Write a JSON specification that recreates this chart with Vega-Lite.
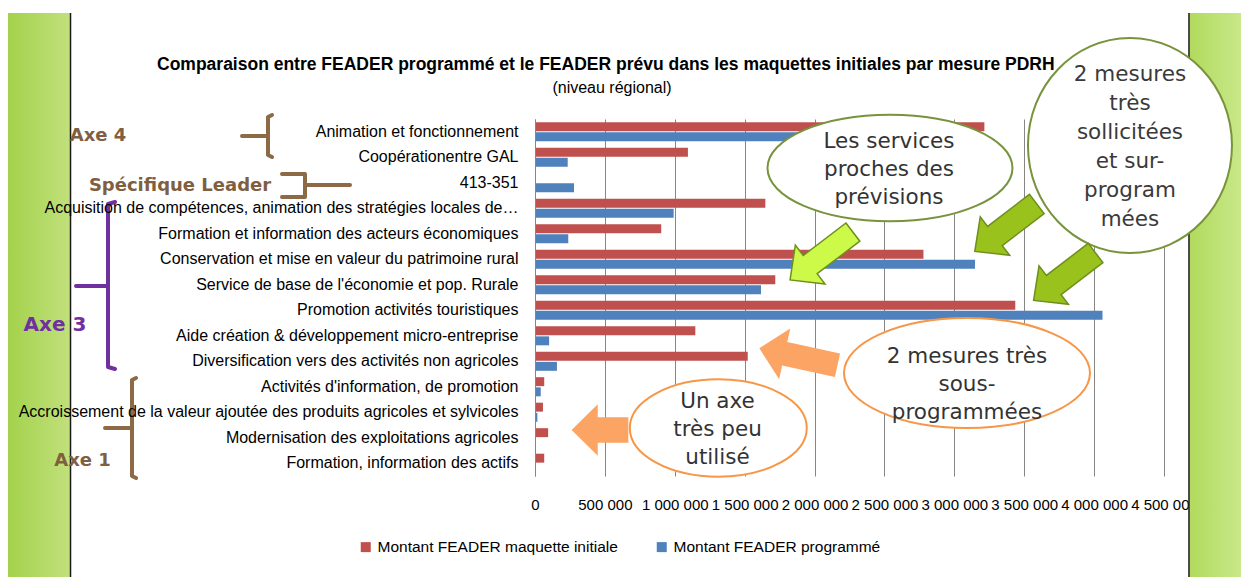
{
  "$schema": "https://vega.github.io/schema/vega-lite/v6.json",
  "width": 629,
  "height": 357,
  "autosize": {"type": "none"},
  "padding": {"left": 535, "top": 119, "right": 77, "bottom": 101},
  "background": "white",
  "config": {
    "view": {"stroke": null},
    "font": "Liberation Sans",
    "locale": {"number": {"decimal": ",", "thousands": " ", "grouping": [3], "currency": ["", " €"]}}
  },
  "resolve": {"scale": {"y": "independent"}},
  "layer": [
    {
      "data": {"values": [{"debut": -3770200, "fin": -3326600, "haut": -4.157, "bas": 17.96}]},
      "mark": {"type": "rect", "fill": {"gradient": "linear", "x1": 0, "x2": 1, "y1": 0, "y2": 0, "stops": [{"offset": 0, "color": "#a3d24b"}, {"offset": 1, "color": "#c1e07c"}]}},
      "encoding": {
        "x": {"field": "debut", "type": "quantitative", "scale": {"domain": [0, 4500000], "nice": false, "zero": false}},
        "x2": {"field": "fin"},
        "y": {"field": "haut", "type": "quantitative", "scale": {"domain": [0, 14], "nice": false, "zero": false, "reverse": true}, "axis": null},
        "y2": {"field": "bas"}
      }
    },
    {
      "data": {"values": [{"debut": 4678700, "fin": 5050700, "haut": -4.157, "bas": 17.96}]},
      "mark": {"type": "rect", "fill": {"gradient": "linear", "x1": 0, "x2": 1, "y1": 0, "y2": 0, "stops": [{"offset": 0, "color": "#b1da5d"}, {"offset": 1, "color": "#c8e889"}]}},
      "encoding": {
        "x": {"field": "debut", "type": "quantitative", "scale": {"domain": [0, 4500000], "nice": false, "zero": false}},
        "x2": {"field": "fin"},
        "y": {"field": "haut", "type": "quantitative", "scale": {"domain": [0, 14], "nice": false, "zero": false, "reverse": true}, "axis": null},
        "y2": {"field": "bas"}
      }
    },
    {
      "data": {"values": [{"valeur": -3323000, "haut": -4.157, "bas": 17.96}, {"valeur": 4678700, "haut": -4.157, "bas": 17.96}]},
      "mark": {"type": "rule", "color": "#1a1a1a", "strokeWidth": 1.5},
      "encoding": {
        "x": {"field": "valeur", "type": "quantitative", "scale": {"domain": [0, 4500000], "nice": false, "zero": false}},
        "y": {"field": "haut", "type": "quantitative", "scale": {"domain": [0, 14], "nice": false, "zero": false, "reverse": true}, "axis": null},
        "y2": {"field": "bas"}
      }
    },
    {
      "data": {"values": [
        {"mesure": "Animation et fonctionnement", "serie": "Montant FEADER maquette initiale", "montant": 3215000},
        {"mesure": "Animation et fonctionnement", "serie": "Montant FEADER programmé", "montant": 2700000},
        {"mesure": "Coopérationentre GAL", "serie": "Montant FEADER maquette initiale", "montant": 1094000},
        {"mesure": "Coopérationentre GAL", "serie": "Montant FEADER programmé", "montant": 234000},
        {"mesure": "413-351", "serie": "Montant FEADER maquette initiale", "montant": 0},
        {"mesure": "413-351", "serie": "Montant FEADER programmé", "montant": 279000},
        {"mesure": "Acquisition de compétences, animation des stratégies locales de…", "serie": "Montant FEADER maquette initiale", "montant": 1648000},
        {"mesure": "Acquisition de compétences, animation des stratégies locales de…", "serie": "Montant FEADER programmé", "montant": 992000},
        {"mesure": "Formation et information des acteurs économiques", "serie": "Montant FEADER maquette initiale", "montant": 903000},
        {"mesure": "Formation et information des acteurs économiques", "serie": "Montant FEADER programmé", "montant": 238000},
        {"mesure": "Conservation et mise en valeur du patrimoine rural", "serie": "Montant FEADER maquette initiale", "montant": 2779000},
        {"mesure": "Conservation et mise en valeur du patrimoine rural", "serie": "Montant FEADER programmé", "montant": 3148000},
        {"mesure": "Service de base de l'économie et pop. Rurale", "serie": "Montant FEADER maquette initiale", "montant": 1719000},
        {"mesure": "Service de base de l'économie et pop. Rurale", "serie": "Montant FEADER programmé", "montant": 1617000},
        {"mesure": "Promotion activités touristiques", "serie": "Montant FEADER maquette initiale", "montant": 3436000},
        {"mesure": "Promotion activités touristiques", "serie": "Montant FEADER programmé", "montant": 4060000},
        {"mesure": "Aide création & développement micro-entreprise", "serie": "Montant FEADER maquette initiale", "montant": 1147000},
        {"mesure": "Aide création & développement micro-entreprise", "serie": "Montant FEADER programmé", "montant": 101000},
        {"mesure": "Diversification vers des activités non agricoles", "serie": "Montant FEADER maquette initiale", "montant": 1522000},
        {"mesure": "Diversification vers des activités non agricoles", "serie": "Montant FEADER programmé", "montant": 157000},
        {"mesure": "Activités d'information, de promotion", "serie": "Montant FEADER maquette initiale", "montant": 66000},
        {"mesure": "Activités d'information, de promotion", "serie": "Montant FEADER programmé", "montant": 41000},
        {"mesure": "Accroissement de la valeur ajoutée des produits agricoles et sylvicoles", "serie": "Montant FEADER maquette initiale", "montant": 57000},
        {"mesure": "Accroissement de la valeur ajoutée des produits agricoles et sylvicoles", "serie": "Montant FEADER programmé", "montant": 17000},
        {"mesure": "Modernisation des exploitations agricoles", "serie": "Montant FEADER maquette initiale", "montant": 94000},
        {"mesure": "Modernisation des exploitations agricoles", "serie": "Montant FEADER programmé", "montant": 0},
        {"mesure": "Formation, information des actifs", "serie": "Montant FEADER maquette initiale", "montant": 66000},
        {"mesure": "Formation, information des actifs", "serie": "Montant FEADER programmé", "montant": 0}
      ]},
      "mark": {"type": "bar"},
      "encoding": {
        "y": {
          "field": "mesure", "type": "nominal", "sort": null,
          "scale": {"paddingInner": 0.25, "paddingOuter": 0.125},
          "axis": {"title": null, "zindex": 1, "domain": true, "domainColor": "#868686", "ticks": false, "labelFont": "Liberation Sans", "labelFontSize": 16, "labelColor": "#000000", "labelPadding": 17, "labelLimit": 1000}
        },
        "yOffset": {
          "field": "serie", "type": "nominal",
          "sort": ["Montant FEADER maquette initiale", "Montant FEADER programmé"],
          "scale": {"paddingInner": 0.12, "paddingOuter": 0}
        },
        "x": {
          "field": "montant", "type": "quantitative",
          "scale": {"domain": [0, 4500000], "nice": false, "zero": false},
          "axis": {"title": null, "values": [0, 500000, 1000000, 1500000, 2000000, 2500000, 3000000, 3500000, 4000000, 4500000], "format": ",d", "grid": true, "gridColor": "#868686", "gridWidth": 1, "domain": false, "ticks": false, "labelFont": "Liberation Sans", "labelFontSize": 15, "labelColor": "#000000", "labelPadding": 21, "labelOverlap": false, "labelFlush": false}
        },
        "color": {
          "field": "serie", "type": "nominal",
          "scale": {"domain": ["Montant FEADER maquette initiale", "Montant FEADER programmé"], "range": ["#C0504D", "#4F81BD"]},
          "legend": {"title": null, "orient": "none", "legendX": -177, "legendY": 420, "direction": "horizontal", "symbolType": "square", "symbolSize": 100, "symbolStrokeWidth": 0, "labelFont": "Liberation Sans", "labelFontSize": 15.5, "labelColor": "#000000", "labelLimit": 500, "columnPadding": 36, "labelOffset": 4}
        }
      }
    },
    {
      "data": {"values": [
        {"valeur": -2704200, "rang": -2.118, "texte": "Comparaison entre FEADER programmé et le FEADER prévu  dans les maquettes initiales par mesure PDRH"}
      ]},
      "mark": {"type": "text", "font": "Liberation Sans", "fontWeight": "bold", "fontSize": 17.5, "align": "left", "baseline": "middle", "color": "#000000"},
      "encoding": {
        "x": {"field": "valeur", "type": "quantitative", "scale": {"domain": [0, 4500000], "nice": false, "zero": false}},
        "y": {"field": "rang", "type": "quantitative", "scale": {"domain": [0, 14], "nice": false, "zero": false, "reverse": true}, "axis": null},
        "text": {"field": "texte"}
      }
    },
    {
      "data": {"values": [
        {"valeur": 550900, "rang": -1.216, "texte": "(niveau régional)"}
      ]},
      "mark": {"type": "text", "font": "Liberation Sans", "fontSize": 16, "align": "center", "baseline": "middle", "color": "#000000"},
      "encoding": {
        "x": {"field": "valeur", "type": "quantitative", "scale": {"domain": [0, 4500000], "nice": false, "zero": false}},
        "y": {"field": "rang", "type": "quantitative", "scale": {"domain": [0, 14], "nice": false, "zero": false, "reverse": true}, "axis": null},
        "text": {"field": "texte"}
      }
    },
    {
      "data": {"values": [
        {"trait": "a4", "ordre": 1, "valeur": -1881500, "rang": -0.157},
        {"trait": "a4", "ordre": 2, "valeur": -1910100, "rang": -0.078},
        {"trait": "a4", "ordre": 3, "valeur": -1910100, "rang": 1.412},
        {"trait": "a4", "ordre": 4, "valeur": -1881500, "rang": 1.49},
        {"trait": "a4t", "ordre": 1, "valeur": -2096100, "rang": 0.667},
        {"trait": "a4t", "ordre": 2, "valeur": -1910100, "rang": 0.667},
        {"trait": "sl", "ordre": 1, "valeur": -1810000, "rang": 2.157},
        {"trait": "sl", "ordre": 2, "valeur": -1645400, "rang": 2.157},
        {"trait": "sl", "ordre": 3, "valeur": -1645400, "rang": 3.059},
        {"trait": "sl", "ordre": 4, "valeur": -1810000, "rang": 3.059},
        {"trait": "slt", "ordre": 1, "valeur": -1645400, "rang": 2.588},
        {"trait": "slt", "ordre": 2, "valeur": -1323500, "rang": 2.588},
        {"trait": "a1", "ordre": 1, "valeur": -2854400, "rang": 10.157},
        {"trait": "a1", "ordre": 2, "valeur": -2883100, "rang": 10.235},
        {"trait": "a1", "ordre": 3, "valeur": -2883100, "rang": 14.0},
        {"trait": "a1", "ordre": 4, "valeur": -2854400, "rang": 14.078},
        {"trait": "a1t", "ordre": 1, "valeur": -3076200, "rang": 12.118},
        {"trait": "a1t", "ordre": 2, "valeur": -2883100, "rang": 12.118}
      ]},
      "mark": {"type": "line", "color": "#8B6A45", "strokeWidth": 4, "strokeCap": "round", "strokeJoin": "round"},
      "encoding": {
        "x": {"field": "valeur", "type": "quantitative", "scale": {"domain": [0, 4500000], "nice": false, "zero": false}},
        "y": {"field": "rang", "type": "quantitative", "scale": {"domain": [0, 14], "nice": false, "zero": false, "reverse": true}, "axis": null},
        "detail": {"field": "trait"},
        "order": {"field": "ordre"}
      }
    },
    {
      "data": {"values": [
        {"trait": "a3", "ordre": 1, "valeur": -3004700, "rang": 3.255},
        {"trait": "a3", "ordre": 2, "valeur": -3054800, "rang": 3.333},
        {"trait": "a3", "ordre": 3, "valeur": -3054800, "rang": 9.725},
        {"trait": "a3", "ordre": 4, "valeur": -3004700, "rang": 9.804},
        {"trait": "a3t", "ordre": 1, "valeur": -3283700, "rang": 6.549},
        {"trait": "a3t", "ordre": 2, "valeur": -3054800, "rang": 6.549}
      ]},
      "mark": {"type": "line", "color": "#7030A0", "strokeWidth": 4, "strokeCap": "round", "strokeJoin": "round"},
      "encoding": {
        "x": {"field": "valeur", "type": "quantitative", "scale": {"domain": [0, 4500000], "nice": false, "zero": false}},
        "y": {"field": "rang", "type": "quantitative", "scale": {"domain": [0, 14], "nice": false, "zero": false, "reverse": true}, "axis": null},
        "detail": {"field": "trait"},
        "order": {"field": "ordre"}
      }
    },
    {
      "data": {"values": [{"valeur": 4256600, "rang": 1.039}]},
      "mark": {"type": "point", "shape": "M-1,0C-1,-0.5821,-0.5523,-1.054,0,-1.054C0.5523,-1.054,1,-0.5821,1,0C1,0.5821,0.5523,1.054,0,1.054C-0.5523,1.054,-1,0.5821,-1,0Z", "size": 41616, "filled": true, "fill": "#ffffff", "stroke": "#77933C", "strokeWidth": 2, "opacity": 1},
      "encoding": {
        "x": {"field": "valeur", "type": "quantitative", "scale": {"domain": [0, 4500000], "nice": false, "zero": false}},
        "y": {"field": "rang", "type": "quantitative", "scale": {"domain": [0, 14], "nice": false, "zero": false, "reverse": true}, "axis": null}
      }
    },
    {
      "data": {"values": [{"valeur": 2539700, "rang": 1.922}]},
      "mark": {"type": "point", "shape": "M-1,0C-1,-0.2402,-0.5523,-0.435,0,-0.435C0.5523,-0.435,1,-0.2402,1,0C1,0.2402,0.5523,0.435,0,0.435C-0.5523,0.435,-1,0.2402,-1,0Z", "size": 60025, "filled": true, "fill": "#ffffff", "stroke": "#77933C", "strokeWidth": 2, "opacity": 1},
      "encoding": {
        "x": {"field": "valeur", "type": "quantitative", "scale": {"domain": [0, 4500000], "nice": false, "zero": false}},
        "y": {"field": "rang", "type": "quantitative", "scale": {"domain": [0, 14], "nice": false, "zero": false, "reverse": true}, "axis": null}
      }
    },
    {
      "data": {"values": [{"valeur": 3090500, "rang": 9.961}]},
      "mark": {"type": "point", "shape": "M-1,0C-1,-0.2469,-0.5523,-0.447,0,-0.447C0.5523,-0.447,1,-0.2469,1,0C1,0.2469,0.5523,0.447,0,0.447C-0.5523,0.447,-1,0.2469,-1,0Z", "size": 60516, "filled": true, "fill": "#ffffff", "stroke": "#F79646", "strokeWidth": 2, "opacity": 1},
      "encoding": {
        "x": {"field": "valeur", "type": "quantitative", "scale": {"domain": [0, 4500000], "nice": false, "zero": false}},
        "y": {"field": "rang", "type": "quantitative", "scale": {"domain": [0, 14], "nice": false, "zero": false, "reverse": true}, "axis": null}
      }
    },
    {
      "data": {"values": [{"valeur": 1311300, "rang": 12.118}]},
      "mark": {"type": "point", "shape": "M-1,0C-1,-0.3038,-0.5523,-0.55,0,-0.55C0.5523,-0.55,1,-0.3038,1,0C1,0.3038,0.5523,0.55,0,0.55C-0.5523,0.55,-1,0.3038,-1,0Z", "size": 31329, "filled": true, "fill": "#ffffff", "stroke": "#F79646", "strokeWidth": 2, "opacity": 1},
      "encoding": {
        "x": {"field": "valeur", "type": "quantitative", "scale": {"domain": [0, 4500000], "nice": false, "zero": false}},
        "y": {"field": "rang", "type": "quantitative", "scale": {"domain": [0, 14], "nice": false, "zero": false, "reverse": true}, "axis": null}
      }
    },
    {
      "data": {"values": [
        {"valeur": 2532600, "rang": 0.902, "texte": "Les services\nproches des\nprévisions"},
        {"valeur": 3090500, "rang": 9.333, "texte": "2 mesures très\nsous-\nprogrammées"},
        {"valeur": 1305600, "rang": 11.086, "texte": "Un axe\ntrès peu\nutilisé"}
      ]},
      "mark": {"type": "text", "font": "DejaVu Sans", "fontSize": 21.5, "lineBreak": "\n", "lineHeight": 28.2, "align": "center", "baseline": "middle", "color": "#333333"},
      "encoding": {
        "x": {"field": "valeur", "type": "quantitative", "scale": {"domain": [0, 4500000], "nice": false, "zero": false}},
        "y": {"field": "rang", "type": "quantitative", "scale": {"domain": [0, 14], "nice": false, "zero": false, "reverse": true}, "axis": null},
        "text": {"field": "texte"}
      }
    },
    {
      "data": {"values": [
        {"valeur": 4256600, "rang": -1.725, "texte": "2 mesures\ntrès\nsollicitées\net sur-\nprogram\nmées"}
      ]},
      "mark": {"type": "text", "font": "DejaVu Sans", "fontSize": 21.5, "lineBreak": "\n", "lineHeight": 29, "align": "center", "baseline": "middle", "color": "#3a3a3a"},
      "encoding": {
        "x": {"field": "valeur", "type": "quantitative", "scale": {"domain": [0, 4500000], "nice": false, "zero": false}},
        "y": {"field": "rang", "type": "quantitative", "scale": {"domain": [0, 14], "nice": false, "zero": false, "reverse": true}, "axis": null},
        "text": {"field": "texte"}
      }
    },
    {
      "data": {"values": [{"valeur": 2049600, "rang": 5.373}]},
      "mark": {"type": "point", "shape": "M-1,-0.29L0.36,-0.29L0.36,-0.62L1,0L0.36,0.62L0.36,0.29L-1,0.29Z", "size": 6241, "angle": 142.7, "filled": true, "fill": "#CDFA48", "stroke": "#6E8E1E", "strokeWidth": 1.5, "opacity": 1},
      "encoding": {
        "x": {"field": "valeur", "type": "quantitative", "scale": {"domain": [0, 4500000], "nice": false, "zero": false}},
        "y": {"field": "rang", "type": "quantitative", "scale": {"domain": [0, 14], "nice": false, "zero": false, "reverse": true}, "axis": null}
      }
    },
    {
      "data": {"values": [{"valeur": 3368100, "rang": 4.263}, {"valeur": 3788700, "rang": 6.184}]},
      "mark": {"type": "point", "shape": "M-1,-0.31L0.35,-0.31L0.35,-0.62L1,0L0.35,0.62L0.35,0.31L-1,0.31Z", "size": 6084, "angle": 142.6, "filled": true, "fill": "#99C21C", "stroke": "#6E8E1E", "strokeWidth": 1.5, "opacity": 1},
      "encoding": {
        "x": {"field": "valeur", "type": "quantitative", "scale": {"domain": [0, 4500000], "nice": false, "zero": false}},
        "y": {"field": "rang", "type": "quantitative", "scale": {"domain": [0, 14], "nice": false, "zero": false, "reverse": true}, "axis": null}
      }
    },
    {
      "data": {"values": [{"valeur": 1884400, "rang": 9.325}]},
      "mark": {"type": "point", "shape": "M-1,-0.3L0.35,-0.3L0.35,-0.65L1,0L0.35,0.65L0.35,0.3L-1,0.3Z", "size": 6400, "angle": 192.3, "filled": true, "fill": "#FCA463", "opacity": 1},
      "encoding": {
        "x": {"field": "valeur", "type": "quantitative", "scale": {"domain": [0, 4500000], "nice": false, "zero": false}},
        "y": {"field": "rang", "type": "quantitative", "scale": {"domain": [0, 14], "nice": false, "zero": false, "reverse": true}, "axis": null}
      }
    },
    {
      "data": {"values": [{"valeur": 465000, "rang": 12.196}]},
      "mark": {"type": "point", "shape": "M-1,-0.45L0.08,-0.45L0.08,-0.91L1,0L0.08,0.91L0.08,0.45L-1,0.45Z", "size": 3215, "angle": 180, "filled": true, "fill": "#FCA463", "opacity": 1},
      "encoding": {
        "x": {"field": "valeur", "type": "quantitative", "scale": {"domain": [0, 4500000], "nice": false, "zero": false}},
        "y": {"field": "rang", "type": "quantitative", "scale": {"domain": [0, 14], "nice": false, "zero": false, "reverse": true}, "axis": null}
      }
    },
    {
      "data": {"values": [
        {"valeur": -3126300, "rang": 0.667, "texte": "Axe 4"},
        {"valeur": -2539700, "rang": 2.627, "texte": "Spécifique Leader"},
        {"valeur": -3237200, "rang": 13.41, "texte": "Axe 1"}
      ]},
      "mark": {"type": "text", "font": "DejaVu Sans", "fontWeight": "bold", "fontSize": 18, "align": "center", "baseline": "middle", "color": "#7F5F3F"},
      "encoding": {
        "x": {"field": "valeur", "type": "quantitative", "scale": {"domain": [0, 4500000], "nice": false, "zero": false}},
        "y": {"field": "rang", "type": "quantitative", "scale": {"domain": [0, 14], "nice": false, "zero": false, "reverse": true}, "axis": null},
        "text": {"field": "texte"}
      }
    },
    {
      "data": {"values": [{"valeur": -3433900, "rang": 8.078, "texte": "Axe 3"}]},
      "mark": {"type": "text", "font": "DejaVu Sans", "fontWeight": "bold", "fontSize": 20, "align": "center", "baseline": "middle", "color": "#7030A0"},
      "encoding": {
        "x": {"field": "valeur", "type": "quantitative", "scale": {"domain": [0, 4500000], "nice": false, "zero": false}},
        "y": {"field": "rang", "type": "quantitative", "scale": {"domain": [0, 14], "nice": false, "zero": false, "reverse": true}, "axis": null},
        "text": {"field": "texte"}
      }
    }
  ]
}
